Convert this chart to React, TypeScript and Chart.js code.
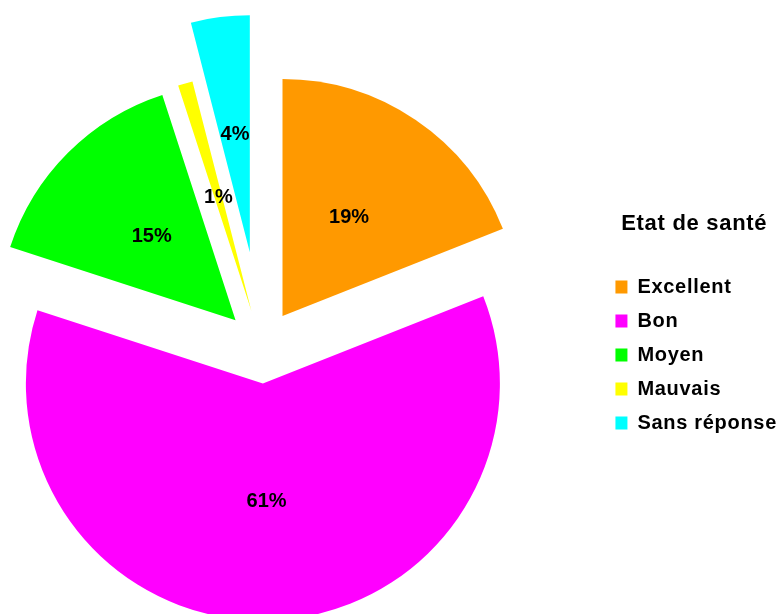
import React, { useEffect, useRef } from 'react';
import { Chart, registerables } from 'chart.js';

Chart.register(...registerables);

const categories = ['Excellent', 'Bon', 'Moyen', 'Mauvais', 'Sans réponse'];
const shares = [19, 61, 15, 1, 4];
const sliceColors = ['#FF9900', '#FF00FF', '#00FF00', '#FFFF00', '#00FFFF'];
const explodeDistances = [37, 37, 37, 37, 95];
const legendTitle = 'Etat de santé';

const FONT = "'Liberation Sans', Arial, Helvetica, sans-serif";
const LETTER_SPACING = '0.7px';

// canvas is wider than the page and shifted left so the pie centre sits where the reference has it
const SHIFT_X = 78;
const CANVAS_W = 865;
const CANVAS_H = 614;

const letterSpacingPlugin = {
  id: 'letterSpacing',
  beforeLayout(chart: any) {
    chart.ctx.letterSpacing = LETTER_SPACING;
  },
  beforeDraw(chart: any) {
    chart.ctx.letterSpacing = LETTER_SPACING;
  },
};

const explodePlugin = {
  id: 'explodeSlices',
  afterDatasetsUpdate(chart: any) {
    const meta = chart.getDatasetMeta(0);
    meta.data.forEach((arc: any, i: number) => {
      const mid = (arc.startAngle + arc.endAngle) / 2;
      const d = explodeDistances[i] || 0;
      arc.x += Math.cos(mid) * d;
      arc.y += Math.sin(mid) * d;
    });
  },
};

const pctLabelPlugin = {
  id: 'pctLabels',
  afterDatasetsDraw(chart: any) {
    const ctx = chart.ctx;
    const meta = chart.getDatasetMeta(0);
    const total = shares.reduce((a, b) => a + b, 0);
    ctx.save();
    ctx.letterSpacing = '0px';
    ctx.font = `bold 20px ${FONT}`;
    ctx.fillStyle = '#000';
    ctx.textAlign = 'center';
    ctx.textBaseline = 'middle';
    meta.data.forEach((arc: any, i: number) => {
      const mid = (arc.startAngle + arc.endAngle) / 2;
      const r = arc.outerRadius * 0.5;
      const txt = Math.round((shares[i] / total) * 100) + '%';
      ctx.fillText(txt, arc.x + Math.cos(mid) * r, arc.y + Math.sin(mid) * r);
    });
    ctx.restore();
  },
};

export default function App() {
  const canvasRef = useRef<HTMLCanvasElement | null>(null);

  useEffect(() => {
    if (!canvasRef.current) return;
    const chart = new Chart(canvasRef.current, {
      type: 'pie',
      data: {
        labels: categories,
        datasets: [
          {
            data: shares,
            backgroundColor: sliceColors,
            borderWidth: 0,
            radius: 237,
            offset: 0,
            hoverOffset: 0,
            clip: false,
          } as any,
        ],
      },
      options: {
        responsive: false,
        animation: false,
        events: [],
        layout: { padding: { left: 0, right: 0, top: 79, bottom: 0 } },
        plugins: {
          legend: {
            position: 'right',
            align: 'start',
            maxWidth: 186,
            title: {
              display: true,
              text: legendTitle,
              position: 'center',
              color: '#000',
              font: { family: FONT, size: 22, weight: 'bold', lineHeight: 1.2 },
              padding: { top: 134, bottom: 23.6 },
            },
            labels: {
              boxWidth: 12,
              boxHeight: 13,
              padding: 14,
              color: '#000',
              font: { family: FONT, size: 20, weight: 'bold' },
            },
          },
          tooltip: { enabled: false },
        },
      } as any,
      plugins: [letterSpacingPlugin, explodePlugin, pctLabelPlugin],
    });
    return () => chart.destroy();
  }, []);

  return (
    <div
      style={{
        position: 'fixed',
        left: -SHIFT_X,
        top: 0,
        width: CANVAS_W,
        height: CANVAS_H,
        background: '#fff',
      }}
    >
      <canvas ref={canvasRef} width={CANVAS_W} height={CANVAS_H} style={{ display: 'block' }} />
    </div>
  );
}
